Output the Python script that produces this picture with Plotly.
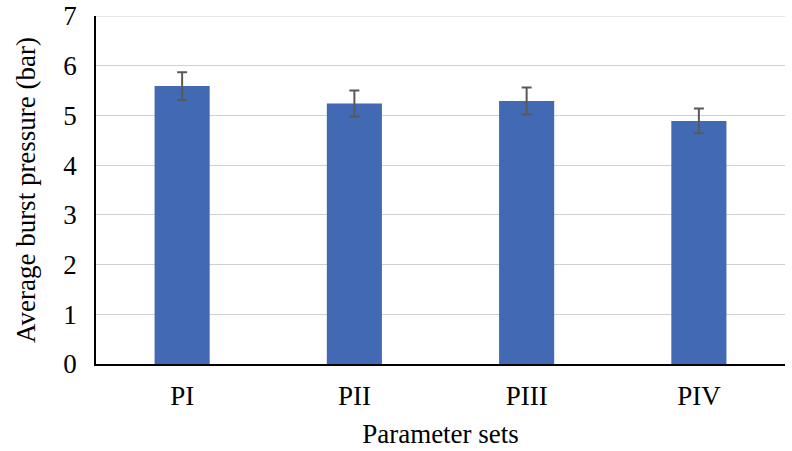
import plotly.graph_objects as go

categories = ["PI", "PII", "PIII", "PIV"]
values = [5.59, 5.24, 5.29, 4.89]
errors = [0.28, 0.26, 0.27, 0.25]

fig = go.Figure(go.Bar(
    x=categories, y=values,
    marker=dict(color="#4169b4", line=dict(width=0)),
    width=0.32,
    error_y=dict(type="data", array=errors, visible=True, color="#595959", thickness=2, width=5),
))

font_family = "Liberation Serif, Times New Roman, serif"
fs = 27
fig.update_layout(
    width=792, height=451,
    margin=dict(l=96, r=7, t=16, b=87),
    paper_bgcolor="white", plot_bgcolor="white",
    font=dict(family=font_family, size=fs, color="black"),
    showlegend=False,
    xaxis=dict(
        title=dict(text="Parameter sets", font=dict(size=fs), standoff=14),
        showline=True, linecolor="black", linewidth=1.5,
        ticks="", tickfont=dict(size=fs), ticklabelstandoff=7,
        automargin=False,
    ),
    yaxis=dict(
        title=dict(text="Average burst pressure (bar)", font=dict(size=fs), standoff=20),
        range=[0, 7], dtick=1,
        showline=True, linecolor="black", linewidth=1.5,
        showgrid=True, gridcolor="#d0d0d0", gridwidth=1,
        zeroline=False, ticks="", tickfont=dict(size=fs), ticklabelstandoff=12,
        ticklabeloverflow="allow",
        automargin=False,
    ),
    shapes=[dict(type="line", xref="paper", yref="y", x0=0, x1=1, y0=7, y1=7,
                 line=dict(color="#d0d0d0", width=1), layer="below")],
)

fig.write_html("out.html", config={"displayModeBar": False},
               post_script="document.body.style.margin='0';")
